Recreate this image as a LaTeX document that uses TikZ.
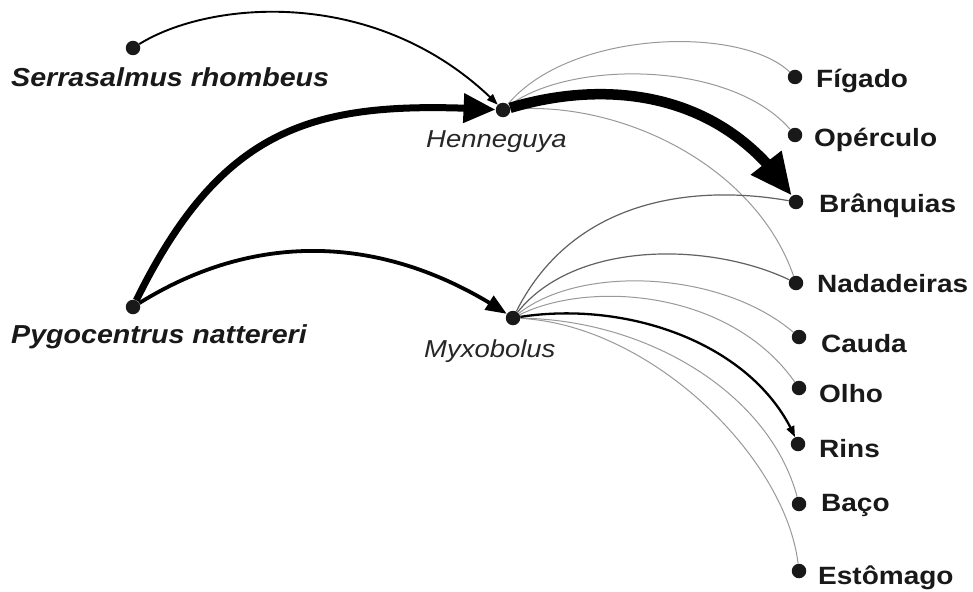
\documentclass[tikz,border=0pt]{standalone}
\usepackage{fontspec}
\usepackage{graphicx}
\setmainfont{Liberation Sans}
\usetikzlibrary{arrows.meta,bending}
\newcommand{\hsc}[1]{\scalebox{1.12}[1]{#1}}
\newcommand{\hsh}[1]{\scalebox{1.1}[1]{#1}}
\tikzset{
  dot/.style={circle, fill=black!90, minimum size=14.5pt, inner sep=0pt},
  organ/.style={anchor=base west, inner sep=0pt, text=black!90, font=\fontsize{25}{29}\selectfont\bfseries},
  host/.style={anchor=base west, inner sep=0pt, text=black!90, font=\fontsize{26}{30}\selectfont\bfseries\itshape},
  para/.style={anchor=base west, inner sep=0pt, text=black!85, font=\fontsize{24.5}{28}\selectfont\itshape},
  faint/.style={draw=black!40, line width=1pt},
  mid/.style={draw=black!62, line width=1.2pt},
}
\begin{document}
\begin{tikzpicture}[x=1pt,y=1pt]
\useasboundingbox[fill=white] (0,0) rectangle (973,-591);

% dots
\node[dot] (sr) at (133,-48) {};
\node[dot] (pn) at (133,-307) {};
\node[dot] (hen) at (503,-110) {};
\node[dot] (myx) at (513,-318) {};
\node[dot] (figado) at (795,-77) {};
\node[dot] (operculo) at (795,-135) {};
\node[dot] (branquias) at (796,-202) {};
\node[dot] (nadadeiras) at (796,-283) {};
\node[dot] (cauda) at (799,-337) {};
\node[dot] (olho) at (799,-388) {};
\node[dot] (rins) at (798,-444) {};
\node[dot] (baco) at (799,-504) {};
\node[dot] (estomago) at (799,-571) {};

% labels
\node[host] (tsr) at (11,-87) {\hsh{Serrasalmus rhombeus}};
\node[host] (tpn) at (11,-343) {\hsh{Pygocentrus nattereri}};
\node[para] (then) at (426,-147) {\hsc{Henneguya}};
\node[para] (tmyx) at (424,-357) {\hsc{Myxobolus}};
\node[organ] (tfig) at (816,-88) {\hsc{Fígado}};
\node[organ] (tope) at (814,-146) {\hsc{Opérculo}};
\node[organ] (tbra) at (819,-212) {\hsc{Brânquias}};
\node[organ] (tnad) at (817,-292) {\hsc{Nadadeiras}};
\node[organ] (tcau) at (821,-352) {\hsc{Cauda}};
\node[organ] (tolh) at (819,-402) {\hsc{Olho}};
\node[organ] (trin) at (819,-457) {\hsc{Rins}};
\node[organ] (tbac) at (821,-511) {\hsc{Baço}};
\node[organ] (test) at (818,-584) {\hsc{Estômago}};

% Henneguya -> organs (thin gray)
\draw[faint] (hen) .. controls +(67,80) and +(-55,52) .. (figado);
\draw[faint] (hen) .. controls +(67,50) and +(-65,75) .. (operculo);
\draw[faint] (hen) .. controls +(117,10) and +(-41,118) .. (nadadeiras);

% Myxobolus -> organs
\draw[mid] (myx) .. controls +(62,123) and +(-96,17) .. (branquias);
\draw[mid] (myx) .. controls +(62,78) and +(-86,41) .. (nadadeiras);
\draw[faint] (myx) .. controls +(67,53) and +(-79,67) .. (cauda);
\draw[faint] (myx) .. controls +(77,38) and +(-69,98) .. (olho);
\draw[faint] (myx) .. controls +(137,-2) and +(-29,109) .. (baco);
\draw[faint] (myx) .. controls +(137,-7) and +(-14,115) .. (estomago);
\draw[line width=2.3pt, -{Triangle[length=11pt,width=8pt]}] (myx) .. controls +(117,18) and +(-43,99) .. (rins);

% hosts -> parasites
\draw[line width=1.9pt, -{Triangle[length=11pt,width=8pt]}] (sr) .. controls +(77,48) and +(-123,125) .. (hen);
\draw[line width=3.8pt, -{Triangle[length=21pt,width=16pt]}] (pn) .. controls +(127,79) and +(-123,82) .. (myx);
\draw[line width=7pt, -{Triangle[length=32pt,width=28pt]}] (pn) .. controls +(92,187) and +(-183,10) .. (hen);

% Henneguya -> Branquias (very thick)
\draw[line width=10.5pt, -{Triangle[length=42pt,width=36pt]}] (hen) .. controls +(100,30) and +(-75,114) .. (branquias);
\end{tikzpicture}
\end{document}
